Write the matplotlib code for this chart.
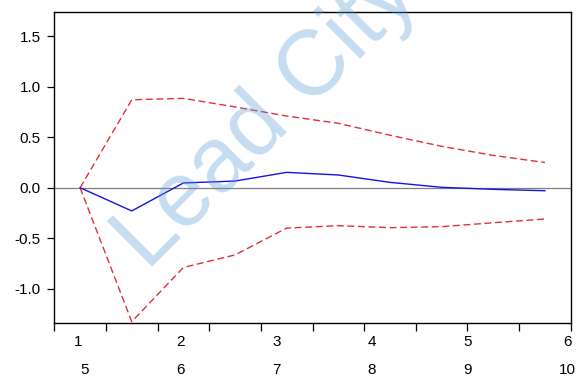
import matplotlib
matplotlib.use("Agg")
import matplotlib.pyplot as plt
import matplotlib.transforms as mtransforms

plt.rcParams['font.family'] = ['Liberation Sans', 'DejaVu Sans']

periods = [1, 2, 3, 4, 5, 6, 7, 8, 9, 10]
response = [0.0, -0.23, 0.047, 0.066, 0.152, 0.126, 0.053, 0.004, -0.016, -0.03]
upper_band = [0.0, 0.871, 0.885, 0.80, 0.71, 0.638, 0.52, 0.41, 0.32, 0.25]
lower_band = [0.0, -1.327, -0.79, -0.666, -0.40, -0.376, -0.396, -0.386, -0.347, -0.31]

y_ticks = [-1.0, -0.5, 0.0, 0.5, 1.0, 1.5]
y_tick_labels = ['-1.0', '-0.5', '0.0', '0.5', '1.0', '1.5']
x_boundaries = [0.5, 1.5, 2.5, 3.5, 4.5, 5.5, 6.5, 7.5, 8.5, 9.5, 10.5]
top_row_labels = ['1', '2', '3', '4', '5', '6']
top_row_pos = [0.965, 2.95, 4.80, 6.65, 8.50, 10.43]
bottom_row_labels = ['5', '6', '7', '8', '9', '10']
bottom_row_pos = [1.09, 2.95, 4.80, 6.65, 8.50, 10.43]
watermark = 'Lead City University'

fig = plt.figure(figsize=(5.8, 3.79), dpi=100)
ax = fig.add_axes([0.0936, 0.147, 0.8904, 0.822])

ax.axhline(0.0, color='#7f7f7f', lw=0.9, zorder=1)
ax.plot(periods, upper_band, color='#e0303c', lw=1.0, dashes=(5.0, 2.6), zorder=3)
ax.plot(periods, lower_band, color='#e0303c', lw=1.0, dashes=(5.0, 2.6), zorder=3)
ax.plot(periods, response, color='#1515e0', lw=1.0, zorder=4)

ax.set_xlim(0.5, 10.5)
ax.set_ylim(-1.343, 1.743)
ax.set_yticks(y_ticks)
ax.set_yticklabels(y_tick_labels)
ax.set_xticks(x_boundaries)
ax.set_xticklabels([])
ax.tick_params(axis='both', direction='out', length=5.4, width=0.9, color='black',
               labelsize=11, pad=4.5)
for s in ax.spines.values():
    s.set_linewidth(1.0)
    s.set_color('black')

trans = mtransforms.blended_transform_factory(ax.transData, ax.transAxes)
for lab, pos in zip(top_row_labels, top_row_pos):
    ax.text(pos, -0.059, lab, transform=trans, ha='center', va='center', fontsize=11,
            clip_on=False)
for lab, pos in zip(bottom_row_labels, bottom_row_pos):
    ax.text(pos, -0.150, lab, transform=trans, ha='center', va='center', fontsize=11,
            clip_on=False)

fig.text(0.255, 0.283, watermark, rotation=45, rotation_mode='anchor', ha='left',
         va='baseline', fontsize=66, color='#5b9bd5', alpha=0.35, zorder=10)

fig.savefig('out.png', dpi=100)
